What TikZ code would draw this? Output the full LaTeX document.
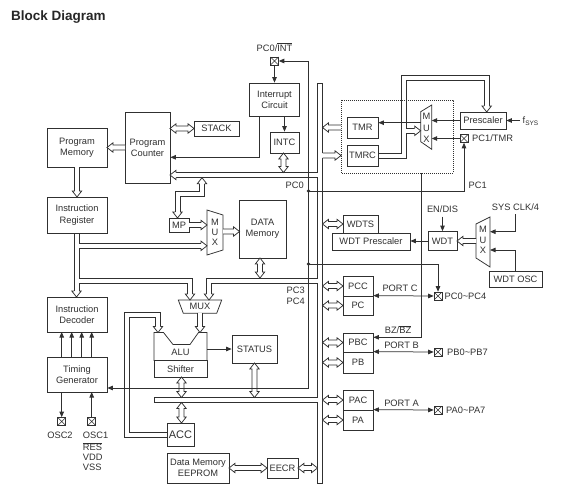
\documentclass[tikz,border=0pt]{standalone}
\usepackage{fontspec}
\setmainfont{Liberation Sans}
\usetikzlibrary{arrows.meta,positioning,calc}
\definecolor{ink}{HTML}{303030}
\tikzset{
  blk/.style={draw=ink, fill=white, line width=.75pt, align=center, inner sep=0pt,
              text=ink, font=\fontsize{9.3}{11.3}\selectfont},
  lbl/.style={inner sep=0pt, text=ink, font=\fontsize{9.3}{11.3}\selectfont},
  pinbox/.style={draw=ink, fill=white, line width=.6pt, minimum size=8pt, inner sep=0pt,
     path picture={\draw[ink, line width=.5pt]
       (path picture bounding box.south west) -- (path picture bounding box.north east)
       (path picture bounding box.north west) -- (path picture bounding box.south east);}},
  sig/.style={draw=ink, line width=.75pt},
  busl/.style={draw=ink, line width=.75pt, line join=miter},
  arr/.style={sig, -{Triangle[length=5.5pt,width=4.5pt]}},
  darr/.style={sig, {Triangle[length=5.5pt,width=4.5pt]}-{Triangle[length=5.5pt,width=4.5pt]}},
  muxs/.style={draw=ink, fill=white, line width=.75pt},
  hollow/.style={fill=white, draw=ink, line width=.75pt, line join=miter},
  hh/.pic={\filldraw[hollow] (-6,2.5) -- (-6,4.7) -- (0,0) -- (-6,-4.7) -- (-6,-2.5);},
  pics/sha/.style={code={\filldraw[hollow]
     (-#1,2.5) -- (-6,2.5) -- (-6,4.7) -- (0,0) -- (-6,-4.7) -- (-6,-2.5) -- (-#1,-2.5);}},
  pics/dha/.style={code={\filldraw[hollow]
     (0,0) -- (6,4.7) -- (6,2.5) -- ({#1-6},2.5) -- ({#1-6},4.7) -- (#1,0)
     -- ({#1-6},-4.7) -- ({#1-6},-2.5) -- (6,-2.5) -- (6,-4.7) -- cycle;}},
}
\begin{document}
\begin{tikzpicture}[x=1pt, y=-1pt]
\useasboundingbox (0,0) rectangle (570,500);
\node[lbl, anchor=base west, text=black!85, font=\fontsize{13.5}{16}\selectfont\bfseries] (title) at (11,20.5) {Block Diagram};

\draw[busl] (317.5,172.5) -- (317.5,83) -- (322.5,83) -- (322.5,153)
  (322.5,158) -- (322.5,483) -- (317.5,483) -- (317.5,402.5)
  (317.5,397.5) -- (317.5,283) (317.5,278) -- (317.5,177.5);
\draw[busl] (176,172.5) -- (317.5,172.5) (176,177.5) -- (317.5,177.5);
\draw[busl] (74,233) -- (74,291) (79,233) -- (79,243.3) (79,248.3) -- (79,278) (79,283) -- (79,291);
\draw[busl] (79,243.3) -- (201,243.3) (79,248.3) -- (201,248.3);
\draw[busl] (79,278) -- (192.5,278) -- (192.5,294) (79,283) -- (187.5,283) -- (187.5,294);
\draw[busl] (317.5,278) -- (206.5,278) -- (206.5,294) (317.5,283) -- (211.5,283) -- (211.5,294);
\draw[busl] (167,432) -- (129.3,432) -- (129.3,317.8) -- (155.5,317.8) -- (155.5,326.5)
  (167,437) -- (124.3,437) -- (124.3,312.8) -- (160.5,312.8) -- (160.5,326.5);
\draw[busl] (199.5,183.7) -- (199.5,191) -- (175,191) -- (175,212)
  (204.5,183.7) -- (204.5,196) -- (180,196) -- (180,212);
\draw[busl] (378,153) -- (401.2,153) -- (401.2,75.3) -- (489.2,75.3) -- (489.2,106)
  (378,158) -- (406.2,158) -- (406.2,133.3) (406.2,128.3) -- (406.2,80.3) -- (484.2,80.3) -- (484.2,106)
  (406.2,128.3) -- (415,128.3) (406.2,133.3) -- (415,133.3);
\draw[busl] (317.5,397.5) -- (154,397.5) -- (154,402.5) -- (317.5,402.5);

\node[blk, minimum width=60pt, minimum height=39pt] (pmem) at (77,147.5) {Program\\Memory};
\node[blk, minimum width=45pt, minimum height=71pt] (pcnt) at (147.5,147.5) {Program\\Counter};
\node[blk, minimum width=45pt, minimum height=15pt] (stack) at (216.5,128.5) {STACK};
\node[blk, minimum width=60pt, minimum height=36pt] (ireg) at (77,215) {Instruction\\Register};
\node[blk, minimum width=60pt, minimum height=35pt] (idec) at (77,314.5) {Instruction\\Decoder};
\node[blk, minimum width=60pt, minimum height=35pt] (tgen) at (77,374.5) {Timing\\Generator};
\node[blk, minimum width=50pt, minimum height=33pt] (icir) at (274.5,99.5) {Interrupt\\Circuit};
\node[blk, minimum width=29pt, minimum height=21pt] (intc) at (284.5,142.5) {INTC};
\node[blk, minimum width=20pt, minimum height=14pt] (mp) at (179,225) {MP};
\node[blk, minimum width=47pt, minimum height=58pt] (dmem) at (262.5,229) {DATA\\Memory};
\node[blk, minimum width=53pt, minimum height=16.5pt] (shift) at (180.5,368.75) {Shifter};
\node[blk, minimum width=45pt, minimum height=28pt] (status) at (254.5,349) {STATUS};
\node[blk, minimum width=27pt, minimum height=23pt, font=\fontsize{11}{13}\selectfont] (acc) at (180.5,434.5) {ACC};
\node[blk, minimum width=62pt, minimum height=30pt] (eep) at (198,468) {Data Memory\\EEPROM};
\node[blk, minimum width=31pt, minimum height=20pt] (eecr) at (282.5,468) {EECR};
\node[blk, minimum width=31pt, minimum height=21pt] (tmr) at (362.5,127.5) {TMR};
\node[blk, minimum width=31pt, minimum height=21pt] (tmrc) at (362.5,155.5) {TMRC};
\node[blk, minimum width=46pt, minimum height=17pt] (presc) at (483,120.5) {Prescaler};
\node[blk, minimum width=35pt, minimum height=18pt] (wdts) at (360.5,224) {WDTS};
\node[blk, minimum width=78pt, minimum height=17pt] (wdtp) at (371,241.5) {WDT Prescaler};
\node[blk, minimum width=29pt, minimum height=19pt] (wdt) at (442.5,241) {WDT};
\node[blk, minimum width=53pt, minimum height=16pt] (wdtosc) at (515.5,279) {WDT OSC};
\node[blk, minimum width=30pt, minimum height=20pt] (pcc) at (358,286) {PCC};
\node[blk, minimum width=30pt, minimum height=19pt] (pc) at (358,305.5) {PC};
\node[blk, minimum width=30pt, minimum height=19pt] (pbc) at (358,342.5) {PBC};
\node[blk, minimum width=30pt, minimum height=21pt] (pb) at (358,362.5) {PB};
\node[blk, minimum width=30pt, minimum height=20pt] (pac) at (358,400) {PAC};
\node[blk, minimum width=30pt, minimum height=20pt] (pa) at (358,420) {PA};

\filldraw[muxs] (163.5,332.5) -- (154,332.5) -- (154,360.5) -- (207,360.5) -- (207,332.5)
  -- (198.5,332.5) -- (190,344.5) -- (173,344.5) -- cycle;
\node[lbl] (alu) at (180.5,352.5) {ALU};
\filldraw[muxs] (178.3,300) -- (221.7,300) -- (216.7,313.3) -- (183.3,313.3) -- cycle;
\node[lbl] (amux) at (200,306.8) {MUX};
\filldraw[muxs] (207,210) -- (223,215) -- (223,250) -- (207,255) -- cycle;
\filldraw[muxs] (420.7,111.7) -- (431.7,105) -- (431.7,149.3) -- (420.7,141.7) -- cycle;
\filldraw[muxs] (476,224) -- (490,217) -- (490,267) -- (476,258) -- cycle;
\foreach \c/\x/\y in {M/215/222.7, U/215/232.7, X/215/242.7,
                      M/426.5/116.7, U/426.5/128.3, X/426.5/139,
                      M/483/229, U/483/240, X/483/250.7}
  \node[lbl] (mx-\x-\y) at (\x,\y) {\c};

\draw[ink, line width=.6pt, dash pattern=on .8pt off 1.2pt] (341,100) rectangle (453,173);

\node[pinbox] (pint) at (274.5,61) {};
\node[pinbox] (ptmr) at (464,138.5) {};
\node[pinbox] (ppc) at (438,296) {};
\node[pinbox] (ppb) at (438,352) {};
\node[pinbox] (ppa) at (438,410) {};
\node[pinbox] (posc2) at (61.7,421.5) {};
\node[pinbox] (posc1) at (91.7,421.5) {};

\foreach \a/\x/\y in {180/170/175, 270/76.5/297, 0/207/245.8, 270/190/300, 270/209/300,
    270/158/332.5, 90/202/177.7, 270/177.5/218, 270/486.7/112, 0/420.7/130.8}
  \pic[rotate=\a] at (\x,\y) {hh};
\pic at (170,128.5) {dha=24};
\pic[rotate=180] at (107,147.5) {sha=18};
\pic[rotate=270] at (77,197) {sha=30};
\pic[rotate=270] at (283.5,153) {dha=19.5};
\pic[rotate=270] at (181.5,377) {dha=20.5};
\pic[rotate=270] at (181.5,402.5) {dha=20.5};
\pic[rotate=270] at (254.5,363) {dha=34.5};
\pic[rotate=270] at (260,258) {dha=20};
\pic at (207,225) {sha=18};
\pic at (239.5,231.5) {sha=16.5};
\pic[rotate=270] at (200,332.5) {sha=19.5};
\pic[rotate=180] at (322.5,127.5) {sha=18.5};
\pic at (341,155.5) {sha=18.5};
\pic[rotate=180] at (457,241) {sha=19};
\foreach \y in {224,286,305.5,342.5,362.5,400,420}
  \pic at (322.5,\y) {dha=20.5};
\pic at (229,468) {dha=38};
\pic at (298,468) {dha=19.5};

\coordinate (stop) at (308.5,61);
\coordinate (sbot) at (308.5,388);
\coordinate (d0) at (308.5,191);
\coordinate (d34) at (308.5,264);
\draw[arr] (stop) -- (pint.east);
\draw[arr] (stop) -- (sbot) -- (tgen.east |- sbot);
\fill[ink] (d0) circle (1.8pt) (d34) circle (1.8pt);
\draw[arr] (d0) -- (d0 -| ptmr) -- (ptmr.south);
\draw[arr] (d34) -- (d34 -| ppc) -- (ppc.north);
\draw[arr] (pint.south) -- (icir.north);
\draw[arr] (icir.south -| intc.north) -- (intc.north);
\draw[arr] ([xshift=10pt]icir.south west) |- ([yshift=-9.8pt]pcnt.east);
\draw[arr] (420.7,122.7) -- ([yshift=4.8pt]tmr.east);
\draw[arr] (presc.west) -- (431.7,120.5);
\draw[arr] (520,120.5) -- (presc.east);
\draw[arr] (ptmr.west) -- (431.7,138.5);
\draw[arr] (421,173) |- ([yshift=5.2pt]pbc.east);
\draw[arr] (442.5,216.5) -- (wdt.north);
\draw[arr] (wdt.west) -- (wdt.west -| wdtp.east);
\draw[arr] (515.5,214) |- (490,231.7);
\draw[arr] (wdtosc.north) |- (490,250);
\draw[darr] (pc.north east) -- (ppc.west);
\draw[darr] (pb.north east) -- (ppb.west);
\draw[darr] (pa.north east) -- (ppa.west);
\draw[arr] (207,349) -- (status.west);
\foreach \x in {61.7,71.7,81.7,91.7}
  \draw[arr] (\x,357) -- (\x,332);
\draw[arr] (61.7,392) -- (posc2.north);
\draw[arr] (posc1.north) -- (91.7,392);

\node[lbl] (lint) at (274.5,47) {PC0/$\overline{\hbox{INT}}$};
\node[lbl, anchor=east] (lpc0) at (304,185.5) {PC0};
\node[lbl, anchor=east] (lpc3) at (305,290.7) {PC3};
\node[lbl, anchor=east] (lpc4) at (305,301.7) {PC4};
\node[lbl, anchor=west] (lpc1) at (468.5,185.5) {PC1};
\node[lbl, anchor=west] (ltmr) at (472,138.5) {PC1/TMR};
\node[lbl, anchor=west] (lfsys) at (522.5,121) {f\textsubscript{SYS}};
\node[lbl] (lendis) at (442.5,209.5) {EN/DIS};
\node[lbl] (lsysclk) at (515.5,207) {SYS CLK/4};
\node[lbl] (lportc) at (400,288.5) {PORT C};
\node[lbl] (lportb) at (401.5,345) {PORT B};
\node[lbl] (lporta) at (401.5,403.3) {PORT A};
\node[lbl] (lbz) at (398,329.5) {BZ/$\overline{\hbox{BZ}}$};
\node[lbl, anchor=west] (lppc) at (444.5,296) {PC0\textasciitilde PC4};
\node[lbl, anchor=west] (lppb) at (447,352.5) {PB0\textasciitilde PB7};
\node[lbl, anchor=west] (lppa) at (446,410) {PA0\textasciitilde PA7};
\node[lbl] (losc2) at (60,435) {OSC2};
\node[lbl, anchor=west] (losc1) at (82.7,435) {OSC1};
\node[lbl, anchor=west] (lres) at (82.7,446.5) {$\overline{\hbox{RES}}$};
\node[lbl, anchor=west] (lvdd) at (82.7,457) {VDD};
\node[lbl, anchor=west] (lvss) at (82.7,467.5) {VSS};
\end{tikzpicture}
\end{document}
